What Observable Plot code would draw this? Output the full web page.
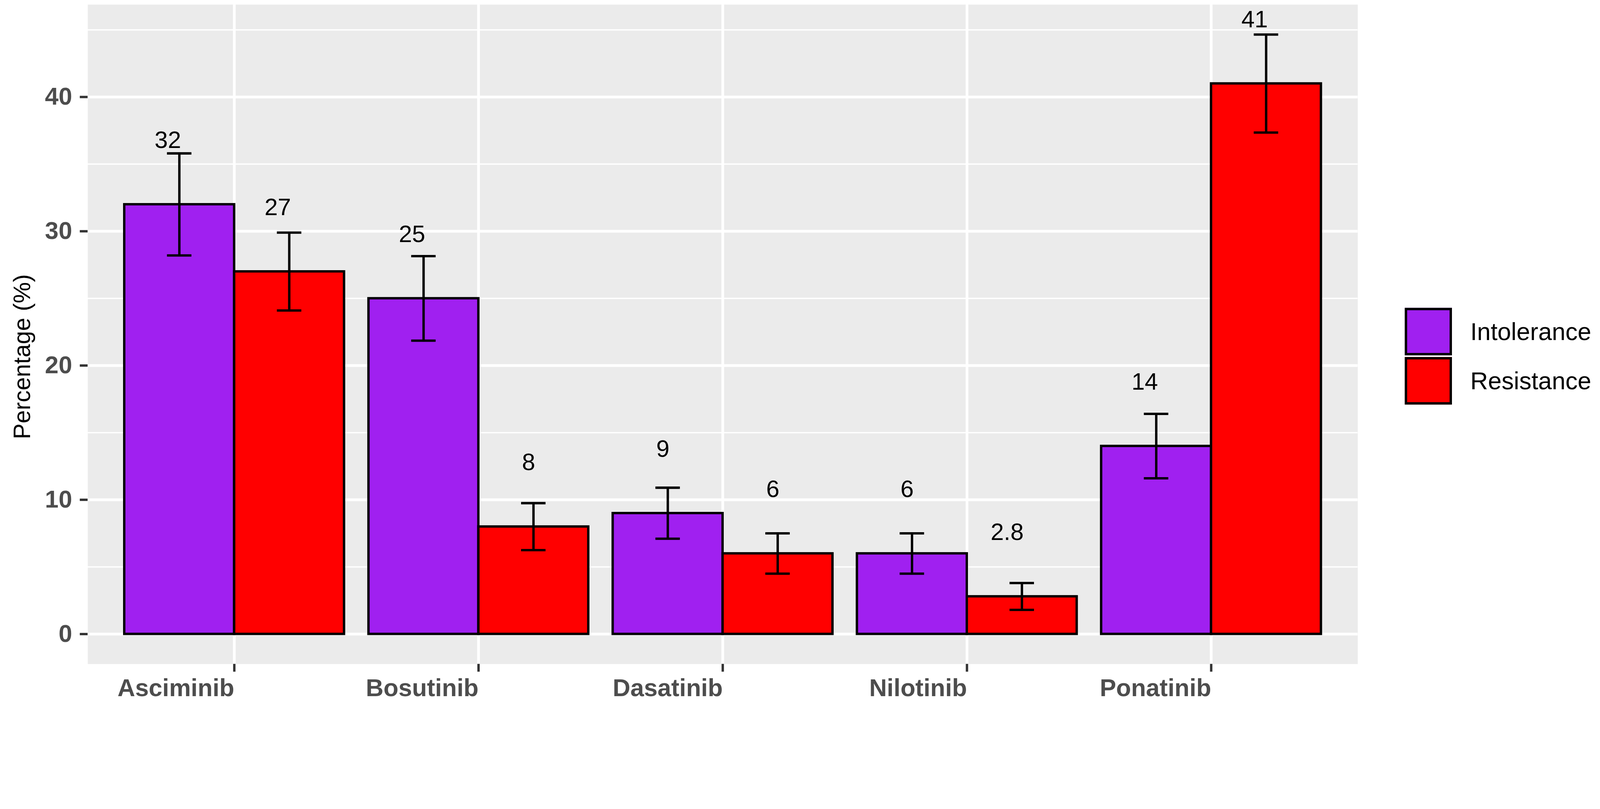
<!DOCTYPE html>
<html>
<head>
<meta charset="utf-8">
<script src="https://cdn.jsdelivr.net/npm/d3@7"></script>
<script src="https://cdn.jsdelivr.net/npm/@observablehq/plot@0.6"></script>
<style>
  html, body { margin: 0; padding: 0; background: #ffffff; overflow: hidden; }
  #outer { position: relative; overflow: hidden; }
  #wrap { position: absolute; left: 0; top: 0; width: 4712px; height: 2072px; transform-origin: 0 0; font-family: "Liberation Sans", Arial, sans-serif; }
  #wrap svg { max-width: none !important; }
  #legend { position: absolute; left: 4137px; top: 907px; }
  .row { display: flex; align-items: center; height: 140px; margin-bottom: 5px; }
  .key { box-sizing: border-box; width: 139px; height: 140px; border: 7px solid #000; }
  .lab { margin-left: 54px; font-size: 72px; color: #000; line-height: 1; white-space: nowrap; }
</style>
</head>
<body>
<div id="outer"><div id="wrap"></div></div>
<script>
// ---- data ----
const drugs = ["Asciminib", "Bosutinib", "Dasatinib", "Nilotinib", "Ponatinib"];
const groups = ["Intolerance", "Resistance"];
const intolerance = [32, 25, 9, 6, 14];
const resistance = [27, 8, 6, 2.8, 41];
const intoleranceErr = [3.8, 3.15, 1.9, 1.5, 2.4];
const resistanceErr = [2.9, 1.75, 1.5, 1.0, 3.65];
const yTicks = [0, 10, 20, 30, 40];
const yMinor = [5, 15, 25, 35, 45];
const groupColors = ["#A020F0", "#FF0000"];
const yTitle = "Percentage (%)";

// ---- table built from arrays ----
const seriesValues = [intolerance, resistance];
const seriesErr = [intoleranceErr, resistanceErr];
const rows = groups.flatMap((g, gi) => drugs.map((d, i) => ({
  drug: d, group: g, value: seriesValues[gi][i], err: seriesErr[gi][i]
})));

// ---- layout ----
const W = 4712, H = 2072;
const mL = 258, mR = 714, mT = 13, mB = 116;
const step = (W - mL - mR) / (drugs.length - 0.1 + 2 * 0.15);
const bw = step * 0.9;
const half = bw / 2;
const capHalf = 36;
const topErr = d3.max(rows, d => d.value + d.err);
const yMax = topErr * 1.05;
const yMin = -0.05 * topErr;
const labelLift = 4.2;

const marks = [
  Plot.frame({fill: "#EBEBEB", stroke: null}),
  Plot.ruleY(yMinor, {stroke: "#ffffff", strokeWidth: 4}),
  Plot.ruleY(yTicks, {stroke: "#ffffff", strokeWidth: 8}),
  Plot.ruleX(drugs, {x: d => d, stroke: "#ffffff", strokeWidth: 8}),
];

groups.forEach((g, gi) => {
  const data = rows.filter(r => r.group === g);
  marks.push(
    Plot.barY(data, {
      x: "drug", y1: 0, y2: "value", fill: "group",
      stroke: "#000000", strokeWidth: 7,
      insetLeft: gi === 0 ? 0 : half, insetRight: gi === 0 ? half : 0
    })
  );
});

groups.forEach((g, gi) => {
  const data = rows.filter(r => r.group === g);
  const center = gi === 0 ? -bw / 4 : bw / 4;
  const cLeft = bw / 2 + center - capHalf;
  const cRight = bw - (bw / 2 + center + capHalf);
  marks.push(
    Plot.ruleX(data, {
      x: "drug", y1: d => d.value - d.err, y2: d => d.value + d.err,
      dx: center, stroke: "#000000", strokeWidth: 7
    }),
    Plot.tickY(data, {
      x: "drug", y: d => d.value + d.err,
      insetLeft: cLeft, insetRight: cRight, stroke: "#000000", strokeWidth: 7
    }),
    Plot.tickY(data, {
      x: "drug", y: d => d.value - d.err,
      insetLeft: cLeft, insetRight: cRight, stroke: "#000000", strokeWidth: 7
    }),
    Plot.text(data, {
      x: "drug", y: d => d.value + labelLift, text: d => String(d.value),
      dx: center + 5, textAnchor: "end", lineAnchor: "bottom",
      fontSize: 70, fill: "#000000"
    })
  );
});

marks.push(
  Plot.axisY({
    ticks: yTicks, tickSize: 23, tickPadding: 23, tickFormat: d => String(d),
    fontSize: 72, fontWeight: "bold", fill: "#4D4D4D",
    stroke: "#333333", strokeWidth: 7, label: null
  }),
  Plot.axisX({
    tickSize: 23, tickPadding: 21, textAnchor: "end",
    fontSize: 72, fontWeight: "bold", fill: "#4D4D4D",
    stroke: "#333333", strokeWidth: 7, label: null
  }),
  Plot.text([yTitle], {
    frameAnchor: "left", text: d => d, rotate: -90, dx: -192, dy: 66,
    fontSize: 70, fill: "#000000", textAnchor: "middle", lineAnchor: "middle"
  })
);

const chart = Plot.plot({
  width: W, height: H,
  marginLeft: mL, marginRight: mR, marginTop: mT, marginBottom: mB,
  style: {fontFamily: '"Liberation Sans", Arial, sans-serif', background: "#ffffff", overflow: "visible"},
  x: {type: "band", domain: drugs, paddingInner: 0.1, paddingOuter: 0.15, round: false, axis: null},
  y: {domain: [yMin, yMax], axis: null},
  color: {domain: groups, range: groupColors},
  marks
});

const wrap = document.getElementById("wrap");
wrap.appendChild(chart);

// legend
const legend = document.createElement("div");
legend.id = "legend";
groups.forEach((g, gi) => {
  const row = document.createElement("div");
  row.className = "row";
  const key = document.createElement("div");
  key.className = "key";
  key.style.background = groupColors[gi];
  const lab = document.createElement("span");
  lab.className = "lab";
  lab.textContent = g;
  row.appendChild(key);
  row.appendChild(lab);
  legend.appendChild(row);
});
wrap.appendChild(legend);

// fit the 4712x2072 drawing into the visible viewport width
function fit() {
  const vw = window.innerWidth || document.documentElement.clientWidth || W;
  const s = Math.min(1, vw / W);
  const outer = document.getElementById("outer");
  outer.style.width = (W * s) + "px";
  outer.style.height = (H * s) + "px";
  wrap.style.transform = s < 1 ? `scale(${s})` : "none";
}
fit();
window.addEventListener("resize", fit);
</script>
</body>
</html>
